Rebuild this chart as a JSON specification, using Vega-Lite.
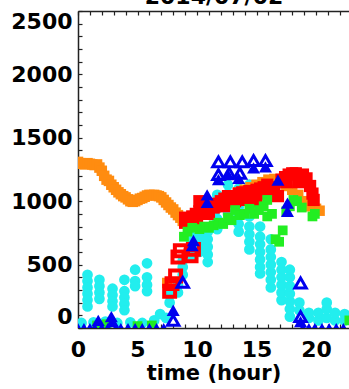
{
  "$schema": "https://vega.github.io/schema/vega-lite/v6.json",
  "width": 271,
  "height": 317,
  "autosize": {"type": "none"},
  "padding": {"left": 78, "top": 11, "right": 0, "bottom": 61},
  "background": "white",
  "config": {
    "view": {"stroke": null},
    "font": "DejaVu Sans",
    "axis": {
      "domainColor": "#222222",
      "domainWidth": 1.5,
      "tickColor": "#222222",
      "tickWidth": 1.2,
      "labelColor": "black",
      "labelFont": "DejaVu Sans",
      "labelFontWeight": "bold",
      "labelFontSize": 22,
      "titleColor": "black",
      "titleFont": "DejaVu Sans",
      "titleFontWeight": "bold",
      "titleFontSize": 21,
      "grid": false
    }
  },
  "data": {
    "values": [
      {"s": "o", "h": 0.0, "v": 1310}, {"s": "o", "h": 0.2, "v": 1300}, {"s": "o", "h": 0.4, "v": 1295}, {"s": "o", "h": 0.6, "v": 1290},
      {"s": "o", "h": 0.8, "v": 1300}, {"s": "o", "h": 1.0, "v": 1295}, {"s": "o", "h": 1.2, "v": 1290}, {"s": "o", "h": 1.4, "v": 1285},
      {"s": "o", "h": 1.6, "v": 1290}, {"s": "o", "h": 1.8, "v": 1265}, {"s": "o", "h": 2.0, "v": 1240}, {"s": "o", "h": 2.2, "v": 1200},
      {"s": "o", "h": 2.4, "v": 1170}, {"s": "o", "h": 2.6, "v": 1160}, {"s": "o", "h": 2.8, "v": 1130}, {"s": "o", "h": 3.0, "v": 1110},
      {"s": "o", "h": 3.2, "v": 1090}, {"s": "o", "h": 3.4, "v": 1070}, {"s": "o", "h": 3.6, "v": 1055}, {"s": "o", "h": 3.8, "v": 1040},
      {"s": "o", "h": 4.0, "v": 1030}, {"s": "o", "h": 4.2, "v": 1015}, {"s": "o", "h": 4.4, "v": 1000}, {"s": "o", "h": 4.6, "v": 995},
      {"s": "o", "h": 4.8, "v": 1000}, {"s": "o", "h": 5.0, "v": 1010}, {"s": "o", "h": 5.2, "v": 1020}, {"s": "o", "h": 5.4, "v": 1025},
      {"s": "o", "h": 5.6, "v": 1035}, {"s": "o", "h": 5.8, "v": 1045}, {"s": "o", "h": 6.0, "v": 1050}, {"s": "o", "h": 6.2, "v": 1048},
      {"s": "o", "h": 6.4, "v": 1050}, {"s": "o", "h": 6.6, "v": 1045}, {"s": "o", "h": 6.8, "v": 1040}, {"s": "o", "h": 7.0, "v": 1030},
      {"s": "o", "h": 7.2, "v": 1010}, {"s": "o", "h": 7.4, "v": 990}, {"s": "o", "h": 7.6, "v": 970}, {"s": "o", "h": 7.8, "v": 950},
      {"s": "o", "h": 8.0, "v": 935}, {"s": "o", "h": 8.2, "v": 910}, {"s": "o", "h": 8.4, "v": 890}, {"s": "o", "h": 8.6, "v": 870},
      {"s": "o", "h": 8.8, "v": 845}, {"s": "o", "h": 9.0, "v": 830}, {"s": "o", "h": 9.5, "v": 850}, {"s": "o", "h": 10.0, "v": 870},
      {"s": "o", "h": 10.5, "v": 900}, {"s": "o", "h": 11.0, "v": 920}, {"s": "o", "h": 11.5, "v": 950}, {"s": "o", "h": 12.0, "v": 980},
      {"s": "o", "h": 12.5, "v": 1010}, {"s": "o", "h": 13.0, "v": 1040}, {"s": "o", "h": 13.5, "v": 1070}, {"s": "o", "h": 14.0, "v": 1090},
      {"s": "o", "h": 14.5, "v": 1110}, {"s": "o", "h": 15.0, "v": 1130}, {"s": "o", "h": 15.5, "v": 1150}, {"s": "o", "h": 16.0, "v": 1170},
      {"s": "o", "h": 16.5, "v": 1175}, {"s": "o", "h": 17.0, "v": 1150}, {"s": "o", "h": 17.5, "v": 1120}, {"s": "o", "h": 18.0, "v": 1090},
      {"s": "o", "h": 18.5, "v": 1050}, {"s": "o", "h": 19.0, "v": 1000}, {"s": "o", "h": 19.5, "v": 960}, {"s": "o", "h": 20.0, "v": 940},
      {"s": "o", "h": 20.3, "v": 925}, {"s": "o", "h": 7.5, "v": 355},

      {"s": "c", "h": 0.8, "v": 420}, {"s": "c", "h": 0.8, "v": 370}, {"s": "c", "h": 0.8, "v": 320}, {"s": "c", "h": 0.8, "v": 270},
      {"s": "c", "h": 0.8, "v": 220}, {"s": "c", "h": 0.8, "v": 170},
      {"s": "c", "h": 1.8, "v": 380}, {"s": "c", "h": 1.8, "v": 330}, {"s": "c", "h": 1.8, "v": 280}, {"s": "c", "h": 1.8, "v": 230},
      {"s": "c", "h": 2.9, "v": 310}, {"s": "c", "h": 2.9, "v": 260}, {"s": "c", "h": 2.9, "v": 210}, {"s": "c", "h": 2.9, "v": 170},
      {"s": "c", "h": 3.9, "v": 380}, {"s": "c", "h": 3.9, "v": 290}, {"s": "c", "h": 3.9, "v": 240}, {"s": "c", "h": 3.9, "v": 190},
      {"s": "c", "h": 3.9, "v": 140},
      {"s": "c", "h": 4.8, "v": 460}, {"s": "c", "h": 4.8, "v": 370}, {"s": "c", "h": 4.8, "v": 330},
      {"s": "c", "h": 5.8, "v": 510}, {"s": "c", "h": 5.8, "v": 400}, {"s": "c", "h": 5.8, "v": 340}, {"s": "c", "h": 5.8, "v": 290},
      {"s": "c", "h": 0.3, "v": 40}, {"s": "c", "h": 1.3, "v": 45}, {"s": "c", "h": 2.3, "v": 50}, {"s": "c", "h": 3.3, "v": 40},
      {"s": "c", "h": 4.4, "v": 45}, {"s": "c", "h": 5.4, "v": 40}, {"s": "c", "h": 6.4, "v": 60}, {"s": "c", "h": 6.9, "v": 110},
      {"s": "c", "h": 7.4, "v": 80},
      {"s": "c", "h": 7.7, "v": 200}, {"s": "c", "h": 7.7, "v": 260}, {"s": "c", "h": 8.4, "v": 280}, {"s": "c", "h": 8.4, "v": 340},
      {"s": "c", "h": 8.8, "v": 420}, {"s": "c", "h": 8.8, "v": 480}, {"s": "c", "h": 8.8, "v": 530},
      {"s": "c", "h": 9.5, "v": 560}, {"s": "c", "h": 9.5, "v": 620}, {"s": "c", "h": 9.5, "v": 680}, {"s": "c", "h": 9.5, "v": 720},
      {"s": "c", "h": 10.2, "v": 600}, {"s": "c", "h": 10.2, "v": 660}, {"s": "c", "h": 10.2, "v": 720}, {"s": "c", "h": 10.2, "v": 780},
      {"s": "c", "h": 10.9, "v": 520}, {"s": "c", "h": 10.9, "v": 580}, {"s": "c", "h": 10.9, "v": 640}, {"s": "c", "h": 10.9, "v": 700},
      {"s": "c", "h": 10.9, "v": 760},
      {"s": "c", "h": 11.7, "v": 780}, {"s": "c", "h": 11.7, "v": 860}, {"s": "c", "h": 11.7, "v": 940}, {"s": "c", "h": 11.7, "v": 1000},
      {"s": "c", "h": 11.7, "v": 1050},
      {"s": "c", "h": 12.6, "v": 900}, {"s": "c", "h": 12.6, "v": 980}, {"s": "c", "h": 12.6, "v": 1060}, {"s": "c", "h": 12.6, "v": 1130},
      {"s": "c", "h": 13.5, "v": 760}, {"s": "c", "h": 13.5, "v": 820}, {"s": "c", "h": 13.5, "v": 880}, {"s": "c", "h": 13.5, "v": 950},
      {"s": "c", "h": 13.5, "v": 1100},
      {"s": "c", "h": 14.4, "v": 620}, {"s": "c", "h": 14.4, "v": 680}, {"s": "c", "h": 14.4, "v": 740}, {"s": "c", "h": 14.4, "v": 800},
      {"s": "c", "h": 14.4, "v": 880}, {"s": "c", "h": 14.4, "v": 1130},
      {"s": "c", "h": 15.3, "v": 430}, {"s": "c", "h": 15.3, "v": 480}, {"s": "c", "h": 15.3, "v": 540}, {"s": "c", "h": 15.3, "v": 600},
      {"s": "c", "h": 15.3, "v": 660}, {"s": "c", "h": 15.3, "v": 720}, {"s": "c", "h": 15.3, "v": 800}, {"s": "c", "h": 15.3, "v": 1100},
      {"s": "c", "h": 16.2, "v": 320}, {"s": "c", "h": 16.2, "v": 380}, {"s": "c", "h": 16.2, "v": 440}, {"s": "c", "h": 16.2, "v": 500},
      {"s": "c", "h": 16.2, "v": 560}, {"s": "c", "h": 16.2, "v": 620}, {"s": "c", "h": 16.2, "v": 700},
      {"s": "c", "h": 17.1, "v": 220}, {"s": "c", "h": 17.1, "v": 280}, {"s": "c", "h": 17.1, "v": 340}, {"s": "c", "h": 17.1, "v": 400},
      {"s": "c", "h": 17.1, "v": 460}, {"s": "c", "h": 17.1, "v": 520},
      {"s": "c", "h": 17.8, "v": 90}, {"s": "c", "h": 17.8, "v": 150}, {"s": "c", "h": 17.8, "v": 210}, {"s": "c", "h": 17.8, "v": 270},
      {"s": "c", "h": 17.8, "v": 330}, {"s": "c", "h": 17.8, "v": 400}, {"s": "c", "h": 17.8, "v": 460},
      {"s": "c", "h": 18.6, "v": 140}, {"s": "c", "h": 18.6, "v": 200}, {"s": "c", "h": 19.4, "v": 80}, {"s": "c", "h": 19.4, "v": 120},
      {"s": "c", "h": 20.2, "v": 60}, {"s": "c", "h": 20.2, "v": 120}, {"s": "c", "h": 20.9, "v": 80}, {"s": "c", "h": 20.9, "v": 150},
      {"s": "c", "h": 20.9, "v": 200}, {"s": "c", "h": 21.6, "v": 60}, {"s": "c", "h": 21.6, "v": 120}, {"s": "c", "h": 22.4, "v": 60},
      {"s": "c", "h": 22.4, "v": 110},

      {"s": "r", "h": 9.0, "v": 830}, {"s": "r", "h": 9.0, "v": 870}, {"s": "r", "h": 9.3, "v": 850}, {"s": "r", "h": 9.6, "v": 880},
      {"s": "r", "h": 9.9, "v": 900}, {"s": "r", "h": 10.0, "v": 850}, {"s": "r", "h": 10.2, "v": 920}, {"s": "r", "h": 10.2, "v": 1000},
      {"s": "r", "h": 10.5, "v": 960}, {"s": "r", "h": 10.8, "v": 940}, {"s": "r", "h": 11.0, "v": 900}, {"s": "r", "h": 11.1, "v": 960},
      {"s": "r", "h": 11.4, "v": 950}, {"s": "r", "h": 11.7, "v": 980}, {"s": "r", "h": 12.0, "v": 1000}, {"s": "r", "h": 12.3, "v": 1020},
      {"s": "r", "h": 12.3, "v": 960}, {"s": "r", "h": 12.6, "v": 1040}, {"s": "r", "h": 12.9, "v": 1030}, {"s": "r", "h": 13.2, "v": 1000},
      {"s": "r", "h": 13.5, "v": 1060}, {"s": "r", "h": 13.8, "v": 1070}, {"s": "r", "h": 14.0, "v": 1010}, {"s": "r", "h": 14.1, "v": 1050},
      {"s": "r", "h": 14.4, "v": 1080}, {"s": "r", "h": 14.7, "v": 1000}, {"s": "r", "h": 15.0, "v": 1090}, {"s": "r", "h": 15.0, "v": 1040},
      {"s": "r", "h": 15.3, "v": 1100}, {"s": "r", "h": 15.6, "v": 1110}, {"s": "r", "h": 15.9, "v": 1130}, {"s": "r", "h": 16.0, "v": 1060},
      {"s": "r", "h": 16.2, "v": 1090}, {"s": "r", "h": 16.5, "v": 1110}, {"s": "r", "h": 16.8, "v": 1040}, {"s": "r", "h": 17.1, "v": 1170},
      {"s": "r", "h": 17.4, "v": 1190}, {"s": "r", "h": 17.5, "v": 1150}, {"s": "r", "h": 17.7, "v": 1210}, {"s": "r", "h": 18.0, "v": 1220},
      {"s": "r", "h": 18.3, "v": 1220}, {"s": "r", "h": 18.5, "v": 1150}, {"s": "r", "h": 18.6, "v": 1200}, {"s": "r", "h": 18.9, "v": 1210},
      {"s": "r", "h": 19.2, "v": 1180}, {"s": "r", "h": 19.5, "v": 1120}, {"s": "r", "h": 19.7, "v": 1060}, {"s": "r", "h": 19.8, "v": 1010},

      {"s": "ro", "h": 7.7, "v": 290}, {"s": "ro", "h": 7.9, "v": 350}, {"s": "ro", "h": 8.2, "v": 410}, {"s": "ro", "h": 8.4, "v": 560},
      {"s": "ro", "h": 8.6, "v": 610}, {"s": "ro", "h": 9.5, "v": 570}, {"s": "ro", "h": 9.7, "v": 620},

      {"s": "g", "h": 8.9, "v": 720}, {"s": "g", "h": 9.2, "v": 760}, {"s": "g", "h": 9.6, "v": 790}, {"s": "g", "h": 10.2, "v": 780},
      {"s": "g", "h": 10.6, "v": 800}, {"s": "g", "h": 11.0, "v": 790}, {"s": "g", "h": 11.4, "v": 810}, {"s": "g", "h": 11.8, "v": 830},
      {"s": "g", "h": 12.2, "v": 820}, {"s": "g", "h": 12.6, "v": 870}, {"s": "g", "h": 12.9, "v": 850}, {"s": "g", "h": 13.2, "v": 930},
      {"s": "g", "h": 13.6, "v": 890}, {"s": "g", "h": 14.0, "v": 900}, {"s": "g", "h": 14.4, "v": 940}, {"s": "g", "h": 14.8, "v": 900},
      {"s": "g", "h": 15.2, "v": 930}, {"s": "g", "h": 15.6, "v": 960}, {"s": "g", "h": 15.9, "v": 1010}, {"s": "g", "h": 15.9, "v": 880},
      {"s": "g", "h": 16.3, "v": 900}, {"s": "g", "h": 16.6, "v": 700}, {"s": "g", "h": 16.9, "v": 680}, {"s": "g", "h": 17.2, "v": 770},
      {"s": "g", "h": 17.5, "v": 920}, {"s": "g", "h": 17.8, "v": 960}, {"s": "g", "h": 18.1, "v": 1010}, {"s": "g", "h": 18.4, "v": 1000},
      {"s": "g", "h": 18.8, "v": 950}, {"s": "g", "h": 19.7, "v": 880}, {"s": "g", "h": 19.9, "v": 900},
      {"s": "g", "h": 1.6, "v": 20}, {"s": "g", "h": 2.4, "v": 30}, {"s": "g", "h": 5.0, "v": 15}, {"s": "g", "h": 6.2, "v": 20},
      {"s": "g", "h": 22.8, "v": 60},

      {"s": "b", "h": 9.7, "v": 690}, {"s": "b", "h": 9.6, "v": 650}, {"s": "b", "h": 10.85, "v": 1050}, {"s": "b", "h": 10.85, "v": 990},
      {"s": "b", "h": 11.8, "v": 1170}, {"s": "b", "h": 12.6, "v": 1210}, {"s": "b", "h": 13.5, "v": 1180}, {"s": "b", "h": 14.75, "v": 1262},
      {"s": "b", "h": 15.75, "v": 1270}, {"s": "b", "h": 16.8, "v": 1167}, {"s": "b", "h": 17.6, "v": 985}, {"s": "b", "h": 17.6, "v": 920},
      {"s": "b", "h": 8.0, "v": 140}, {"s": "b", "h": 1.7, "v": 60}, {"s": "b", "h": 2.8, "v": 90}, {"s": "b", "h": 2.9, "v": 50},
      {"s": "b", "h": 18.7, "v": 50},

      {"s": "bo", "h": 11.8, "v": 1310}, {"s": "bo", "h": 12.8, "v": 1310}, {"s": "bo", "h": 13.8, "v": 1310}, {"s": "bo", "h": 14.75, "v": 1320},
      {"s": "bo", "h": 15.75, "v": 1320}, {"s": "bo", "h": 11.8, "v": 1210}, {"s": "bo", "h": 12.7, "v": 1220}, {"s": "bo", "h": 13.6, "v": 1220},
      {"s": "bo", "h": 18.7, "v": 355}, {"s": "bo", "h": 8.8, "v": 360}, {"s": "bo", "h": 8.0, "v": 60}, {"s": "bo", "h": 18.7, "v": 90},

      {"s": "bs", "h": 0.0, "v": 10}, {"s": "bs", "h": 0.5, "v": 10}, {"s": "bs", "h": 1.0, "v": 10}, {"s": "bs", "h": 1.4, "v": 10},
      {"s": "bs", "h": 2.0, "v": 10}, {"s": "bs", "h": 2.5, "v": 10}, {"s": "bs", "h": 3.2, "v": 10}, {"s": "bs", "h": 3.6, "v": 10},
      {"s": "bs", "h": 4.2, "v": 10}, {"s": "bs", "h": 4.8, "v": 10}, {"s": "bs", "h": 5.4, "v": 10}, {"s": "bs", "h": 6.0, "v": 10},
      {"s": "bs", "h": 6.6, "v": 10}, {"s": "bs", "h": 7.2, "v": 10}, {"s": "bs", "h": 18.9, "v": 10}, {"s": "bs", "h": 19.4, "v": 10},
      {"s": "bs", "h": 19.9, "v": 10}, {"s": "bs", "h": 20.5, "v": 10}, {"s": "bs", "h": 21.1, "v": 10}, {"s": "bs", "h": 21.7, "v": 10},
      {"s": "bs", "h": 22.3, "v": 10}
    ]
  },
  "layer": [
    {
      "encoding": {
        "x": {
          "field": "h",
          "type": "quantitative",
          "scale": {"domain": [0, 22.77], "nice": false, "zero": false},
          "axis": {
            "orient": "bottom",
            "values": [0, 1, 2, 3, 4, 5, 6, 7, 8, 9, 10, 11, 12, 13, 14, 15, 16, 17, 18, 19, 20, 21, 22],
            "labelExpr": "datum.value % 5 === 0 ? format(datum.value, 'd') : ''",
            "tickSize": -4,
            "labelPadding": 15,
            "labelFlush": false,
            "labelOverlap": false,
            "title": "time (hour)",
            "titlePadding": 2
          }
        },
        "y": {
          "field": "v",
          "type": "quantitative",
          "scale": {"domain": [0, 2500], "nice": false},
          "axis": {
            "values": [0, 100, 200, 300, 400, 500, 600, 700, 800, 900, 1000, 1100, 1200, 1300, 1400, 1500, 1600, 1700, 1800, 1900, 2000, 2100, 2200, 2300, 2400, 2500],
            "labelExpr": "datum.value % 500 === 0 ? format(datum.value, 'd') : ''",
            "tickSize": -4,
            "labelPadding": 10,
            "labelFlush": true,
            "labelOverlap": false,
            "title": null
          }
        }
      },
      "layer": [
        {"transform": [{"filter": "datum.s === 'c'"}], "mark": {"type": "point", "shape": "circle", "filled": true, "size": 115, "color": "#22EEEE", "opacity": 1, "clip": true}},
        {"transform": [{"filter": "datum.s === 'o'"}], "mark": {"type": "point", "shape": "square", "filled": true, "size": 110, "color": "#FF8C10", "opacity": 1, "clip": true}},
        {"transform": [{"filter": "datum.s === 'r'"}], "mark": {"type": "point", "shape": "square", "filled": true, "size": 150, "color": "#FF0000", "opacity": 1, "clip": true}},
        {"transform": [{"filter": "datum.s === 'ro'"}], "mark": {"type": "point", "shape": "square", "filled": false, "size": 120, "strokeWidth": 4, "color": "#FF0000", "opacity": 1, "clip": true}},
        {"transform": [{"filter": "datum.s === 'g'"}], "mark": {"type": "point", "shape": "square", "filled": true, "size": 95, "color": "#22EE22", "opacity": 1, "clip": true}},
        {"transform": [{"filter": "datum.s === 'b'"}], "mark": {"type": "point", "shape": "triangle-up", "filled": true, "size": 170, "color": "#0000EE", "opacity": 1, "clip": true}},
        {"transform": [{"filter": "datum.s === 'bo'"}], "mark": {"type": "point", "shape": "triangle-up", "filled": false, "size": 130, "strokeWidth": 3, "color": "#0000EE", "opacity": 1, "clip": true}},
        {"transform": [{"filter": "datum.s === 'bs'"}], "mark": {"type": "point", "shape": "triangle-up", "filled": true, "size": 70, "color": "#0000EE", "opacity": 1, "clip": true}}
      ]
    },
    {
      "transform": [{"filter": "datum.s === 'bs'"}],
      "mark": {"type": "point", "opacity": 0},
      "encoding": {
        "x": {
          "field": "h",
          "type": "quantitative",
          "axis": {
            "orient": "top",
            "values": [0, 1, 2, 3, 4, 5, 6, 7, 8, 9, 10, 11, 12, 13, 14, 15, 16, 17, 18, 19, 20, 21, 22],
            "labels": false,
            "tickSize": -4,
            "title": "2014/07/02",
            "titleFontSize": 22,
            "titleBaseline": "alphabetic",
            "titlePadding": 7
          }
        },
        "y": {"field": "v", "type": "quantitative", "axis": null}
      }
    }
  ],
  "resolve": {"axis": {"x": "independent", "y": "independent"}}
}
